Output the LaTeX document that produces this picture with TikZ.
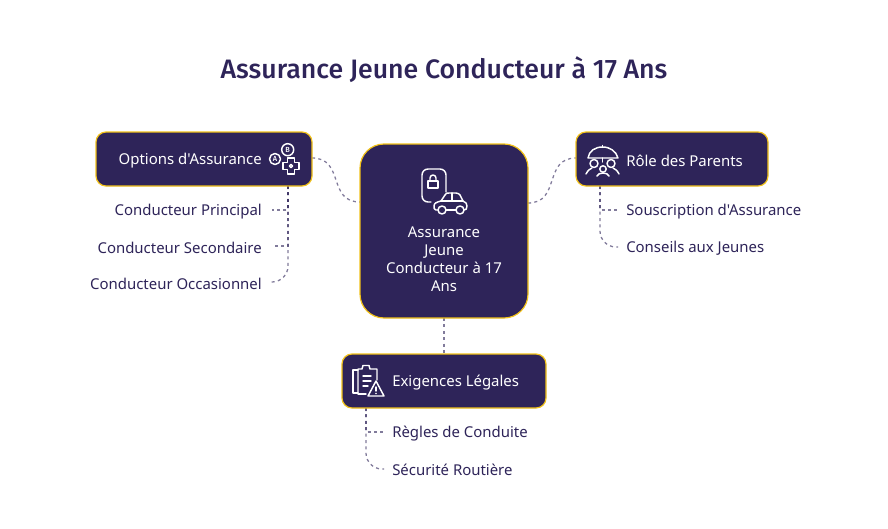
\documentclass[tikz,border=0pt]{standalone}
\usepackage{fontspec}
\setmainfont{Noto Sans}
\newfontfamily\plainfont{Noto Sans}
\IfFontExistsTF{Noto Sans SemiBold}{\newfontfamily\ttlfont{Noto Sans SemiBold}}{%
\IfFontExistsTF{Open Sans SemiBold}{\newfontfamily\ttlfont{Open Sans SemiBold}}{%
\IfFontExistsTF{Fira Sans Medium}{\newfontfamily\ttlfont{Fira Sans Medium}}{%
\newfontfamily\ttlfont{Noto Sans Bold}}}}
\usetikzlibrary{calc}
\definecolor{navy}{HTML}{2E2459}
\definecolor{gold}{HTML}{F2C21A}
\tikzset{
 box/.style={draw=gold,line width=.9pt,fill=navy,text=white,rounded corners=7.5pt,minimum height=40.5pt,inner sep=0pt},
 leaf/.style={text=navy,inner sep=0pt,font=\plainfont\fontsize{11.2}{13}\selectfont},
 boxtext/.style={text=white,inner sep=0pt,font=\plainfont\fontsize{11.2}{13.5}\selectfont},
 link/.style={draw=navy,opacity=.6,line width=.95pt,dash pattern=on 2.3pt off 2.5pt},
 ico/.style={draw=white,line width=1.1pt,line cap=round,line join=round},
}
\begin{document}
\begin{tikzpicture}[x=.75pt,y=-.75pt]
\useasboundingbox (0,0) rectangle (888,528);
\fill[white] (0,0) rectangle (888,528);
\node[text=navy,font=\ttlfont\fontsize{20}{24}\selectfont] (title) at (444,69.5) {Assurance Jeune Conducteur à 17 Ans};
\coordinate (cL) at (360,202);
\coordinate (cR) at (528,203);
\coordinate (oT) at (288,186);
\coordinate (rT) at (600,186);
\coordinate (eT) at (366,408);
\coordinate (cB) at (444,318);
\coordinate (eTop) at (444,354);
\coordinate (oR) at (312,158);
\coordinate (rL) at (576,158);
\coordinate (oa) at (272,210);
\coordinate (ob) at (272,246);
\coordinate (oc) at (270,282);
\coordinate (ra) at (618,210);
\coordinate (rb) at (618,247);
\coordinate (ea) at (384,432);
\coordinate (eb) at (384,469);
\draw[link] (oR) .. controls (345,158) and (327,202) .. (cL);
\draw[link] (cR) .. controls (561,203) and (543,158) .. (rL);
\draw[link] (cB) -- (eTop);
\draw[link] (oT) |- (oa);
\draw[link] (oT) |- (ob);
\draw[link,rounded corners=12pt] (oT) |- (oc);
\draw[link] (rT) |- (ra);
\draw[link,rounded corners=12pt] (rT) |- (rb);
\draw[link] (eT) |- (ea);
\draw[link,rounded corners=12pt] (eT) |- (eb);
% boxes
\node[box,minimum width=162pt] (opt) at (204,159) {};
\node[box,minimum width=144pt] (role) at (672,159) {};
\node[box,minimum width=153pt] (exi) at (444,381) {};
\node[box,minimum width=126pt,minimum height=130.5pt,rounded corners=18pt] (ctr) at (444,231) {};
\node[boxtext,anchor=east] (optl) at (262,161) {Options d'Assurance};
\node[boxtext,anchor=west] (rolel) at (626,161) {Rôle des Parents};
\node[boxtext,anchor=west] (exil) at (392,383) {Exigences Légales};
\node[boxtext,align=center] (ctrl) at (444,259) {Assurance\\Jeune\\Conducteur à 17\\Ans};
% leaves
\node[leaf,anchor=east] (l1) at (262,212) {Conducteur Principal};
\node[leaf,anchor=east] (l2) at (262,248) {Conducteur Secondaire};
\node[leaf,anchor=east] (l3) at (262,284) {Conducteur Occasionnel};
\node[leaf,anchor=west] (l4) at (626,212) {Souscription d'Assurance};
\node[leaf,anchor=west] (l5) at (626,248) {Conseils aux Jeunes};
\node[leaf,anchor=west] (l6) at (392,434) {Règles de Conduite};
\node[leaf,anchor=west] (l7) at (392,470) {Sécurité Routière};
% icon: phone + car
\draw[ico] (446,192) -- (446,175) arc[start angle=0,end angle=-90,x radius=6,y radius=6] -- (428,169) arc[start angle=-90,end angle=-180,x radius=6,y radius=6] -- (422,196) arc[start angle=180,end angle=90,x radius=6,y radius=6] -- (431,202);
\draw[ico] (428,181) rectangle (438,188);
\draw[ico] (430,181) -- (430,178) arc[start angle=180,end angle=360,x radius=3,y radius=3] -- (436,181);
\draw[ico] (438,210) -- (436,210) .. controls (434,210) and (434,208) .. (434,206) .. controls (434,203) and (437,202) .. (441,201) -- (445,195) .. controls (446,193) and (447,193) .. (449,193) -- (456,193) .. controls (458,193) and (459,194) .. (460,195) -- (463,201) .. controls (466,202) and (467,204) .. (467,206) .. controls (467,209) and (466,210) .. (464,210);
\draw[ico] (446,210) -- (456,210);
\draw[ico] (441,201) -- (463,201);
\draw[ico] (452,193) -- (452,201);
\draw[ico] (442,210) circle[radius=4];
\draw[ico] (460,210) circle[radius=4];
% icon: options
\draw[ico] (275,159) circle[radius=5.5];
\draw[ico] (287.7,149.7) circle[radius=6];
\node[text=white,inner sep=0pt,font=\ttlfont\fontsize{5.5}{6}\selectfont] (ia) at (275,159) {A};
\node[text=white,inner sep=0pt,font=\ttlfont\fontsize{5.5}{6}\selectfont] (ib) at (287.7,149.7) {B};
\draw[ico] (287.5,158) -- (294.5,158) -- (294.5,162.5) -- (299,162.5) -- (299,169.5) -- (294.5,169.5) -- (294.5,174) -- (287.5,174) -- (287.5,169.5) -- (283,169.5) -- (283,162.5) -- (287.5,162.5) -- cycle;
\draw[ico] (291,166) circle[radius=1.6];
% icon: umbrella + parents
\draw[ico] (588,158) .. controls (589,151) and (595,147) .. (602.5,147) .. controls (610,147) and (616,151) .. (618,158) -- cycle;
\draw[ico] (602.5,147) -- (602.5,145.5);
\draw[ico] (602.5,158) -- (602.5,162);
\draw[ico] (594,163.5) circle[radius=4];
\draw[ico] (611,163.5) circle[radius=4];
\draw[ico] (603,169) circle[radius=3.2];
\draw[ico] (586,174) .. controls (588,170) and (590,169) .. (592,168);
\draw[ico] (619,174) .. controls (617,170) and (615,169) .. (613,168);
\draw[ico] (597,176) .. controls (598,174) and (600,173) .. (603,173) .. controls (606,173) and (608,174) .. (609,176);
% icon: clipboard + warning
\draw[ico] (358,370) -- (353,370) -- (353,393) -- (358,393);
\draw[ico] (358,393) -- (358,369) -- (362,369) -- (363,365.5) -- (369,365.5) -- (370,369) -- (377,369) -- (377,380);
\draw[ico] (358,394) -- (366,394);
\draw[ico] (363,376) -- (371,376);
\draw[ico] (363,381) -- (371,381);
\draw[ico] (363,386) -- (368,386);
\draw[ico] (376,381) -- (384,396) -- (368,396) -- cycle;
\draw[ico] (376,387) -- (376,391);
\fill[white] (376,393.5) circle[radius=.9];
\end{tikzpicture}
\end{document}
